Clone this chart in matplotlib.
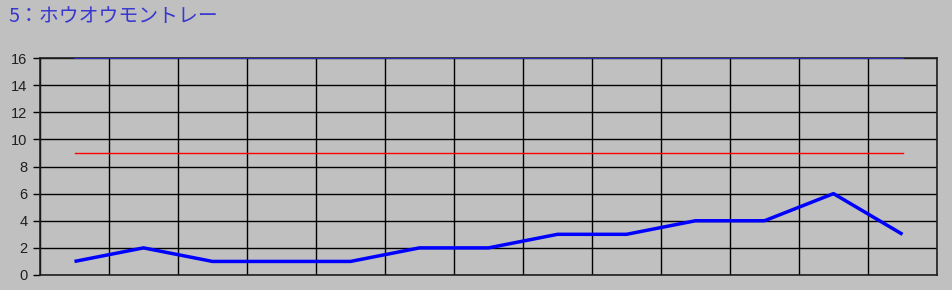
import matplotlib
matplotlib.use("Agg")
import matplotlib.pyplot as plt
import numpy as np

plt.rcParams['font.family'] = ['Noto Sans CJK JP', 'DejaVu Sans']

title = "5：ホウオウモントレー"
races = list(range(1, 14))
values = [1, 2, 1, 1, 1, 2, 2, 3, 3, 4, 4, 6, 3]
upper_ref = [16] * 13
mid_ref = [9] * 13
y_ticks = [0, 2, 4, 6, 8, 10, 12, 14, 16]

bg = "#C0C0C0"
fig = plt.figure(figsize=(9.53, 2.90), dpi=100, facecolor=bg)
ax = fig.add_axes([40/953, 1-275/290, 897/953, 217/290], facecolor=bg)

x = np.array(races)
ax.plot(x, upper_ref, color="#3030E0", lw=1.2, zorder=3)
ax.plot(x, mid_ref, color="#FF0000", lw=1.0, zorder=3, snap=True)
ax.plot(x, values, color="#0000FF", lw=2.5, zorder=4, solid_capstyle='butt')

ax.set_xlim(0.5, len(races) + 0.5)
ax.set_ylim(0, 16)
ax.set_yticks(y_ticks)
ax.set_yticklabels([str(t) for t in y_ticks], family=['Liberation Sans', 'DejaVu Sans'])
ax.set_xticks([])
ax.set_xticks(np.arange(0.5, len(races) + 1, 1), minor=True)
ax.tick_params(axis='x', which='minor', length=0)
ax.tick_params(axis='y', length=5, width=1, color="black", labelsize=10.5, pad=4, labelcolor="#202020")
ax.grid(True, which='minor', axis='x', color="black", lw=1)
ax.grid(True, which='major', axis='y', color="black", lw=1)
for s in ax.spines.values():
    s.set_color("#202020")
    s.set_linewidth(1.2)

fig.text(8/953, 1-17/290, title, color="#3838D0", fontsize=14.3, va='center', ha='left')

fig.savefig("out.png", dpi=100, facecolor=bg)
